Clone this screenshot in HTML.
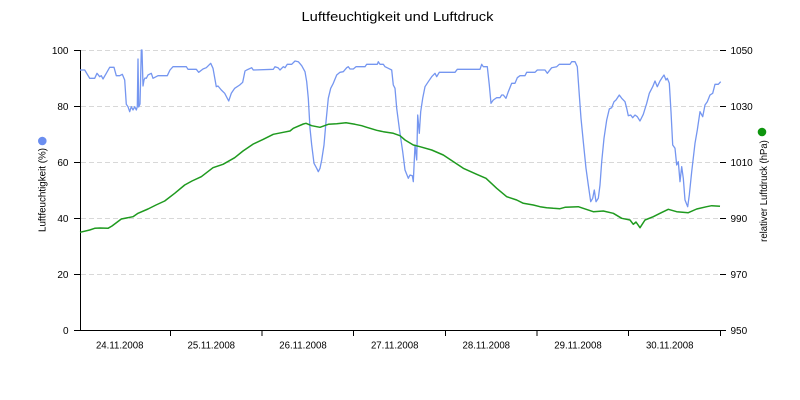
<!DOCTYPE html>
<html><head><meta charset="utf-8"><style>
html,body{margin:0;padding:0;background:#fff;}
svg{display:block;}
text{font-family:"Liberation Sans","DejaVu Sans",sans-serif;fill:#000;}
</style></head><body>
<svg width="800" height="400" viewBox="0 0 800 400" xmlns="http://www.w3.org/2000/svg">
<rect width="800" height="400" fill="#fff"/>
<text x="397.5" y="21" font-size="13" text-anchor="middle" textLength="192" lengthAdjust="spacingAndGlyphs">Luftfeuchtigkeit und Luftdruck</text>
<g stroke="#d8d8d8" stroke-width="1" stroke-dasharray="5,3">
<line x1="81" y1="50.5" x2="720" y2="50.5"/>
<line x1="81" y1="106.5" x2="720" y2="106.5"/>
<line x1="81" y1="162.5" x2="720" y2="162.5"/>
<line x1="81" y1="218.5" x2="720" y2="218.5"/>
<line x1="81" y1="274.5" x2="720" y2="274.5"/>
</g>
<g stroke="#000" stroke-width="1">
<line x1="80.5" y1="50" x2="80.5" y2="330.5"/>
<line x1="80" y1="330.5" x2="721" y2="330.5"/>
<line x1="74" y1="50.5" x2="80" y2="50.5"/>
<line x1="74" y1="106.5" x2="80" y2="106.5"/>
<line x1="74" y1="162.5" x2="80" y2="162.5"/>
<line x1="74" y1="218.5" x2="80" y2="218.5"/>
<line x1="74" y1="274.5" x2="80" y2="274.5"/>
<line x1="74" y1="330.5" x2="80" y2="330.5"/>
<line x1="720" y1="50.5" x2="726" y2="50.5"/>
<line x1="720" y1="106.5" x2="726" y2="106.5"/>
<line x1="720" y1="162.5" x2="726" y2="162.5"/>
<line x1="720" y1="218.5" x2="726" y2="218.5"/>
<line x1="720" y1="274.5" x2="726" y2="274.5"/>
<line x1="720" y1="330.5" x2="726" y2="330.5"/>
<line x1="170.5" y1="330" x2="170.5" y2="336"/>
<line x1="262" y1="330" x2="262" y2="336"/>
<line x1="353.5" y1="330" x2="353.5" y2="336"/>
<line x1="445.5" y1="330" x2="445.5" y2="336"/>
<line x1="537" y1="330" x2="537" y2="336"/>
<line x1="628.5" y1="330" x2="628.5" y2="336"/>
<line x1="720.5" y1="330" x2="720.5" y2="336"/>
</g>
<g font-size="10" text-anchor="end">
<text x="68.5" y="54">100</text>
<text x="68.5" y="110">80</text>
<text x="68.5" y="166">60</text>
<text x="68.5" y="222">40</text>
<text x="68.5" y="278">20</text>
<text x="68.5" y="334">0</text>
</g>
<g font-size="10">
<text x="730.5" y="54">1050</text>
<text x="730.5" y="110">1030</text>
<text x="730.5" y="166">1010</text>
<text x="730.5" y="222">990</text>
<text x="730.5" y="278">970</text>
<text x="730.5" y="334">950</text>
</g>
<g font-size="10" text-anchor="middle">
<text x="119.7" y="348.5" textLength="47.5" lengthAdjust="spacingAndGlyphs">24.11.2008</text>
<text x="211.3" y="348.5" textLength="47.5" lengthAdjust="spacingAndGlyphs">25.11.2008</text>
<text x="303" y="348.5" textLength="47.5" lengthAdjust="spacingAndGlyphs">26.11.2008</text>
<text x="394.7" y="348.5" textLength="47.5" lengthAdjust="spacingAndGlyphs">27.11.2008</text>
<text x="486.3" y="348.5" textLength="47.5" lengthAdjust="spacingAndGlyphs">28.11.2008</text>
<text x="578" y="348.5" textLength="47.5" lengthAdjust="spacingAndGlyphs">29.11.2008</text>
<text x="669.7" y="348.5" textLength="47.5" lengthAdjust="spacingAndGlyphs">30.11.2008</text>
</g>
<circle cx="42.3" cy="141" r="4.3" fill="#6b8ef0"/>
<text transform="translate(45.5,190) rotate(-90)" font-size="10" text-anchor="middle" textLength="84" lengthAdjust="spacingAndGlyphs">Luftfeuchtigkeit (%)</text>
<circle cx="762" cy="132" r="4.3" fill="#0e950e"/>
<text transform="translate(767,191) rotate(-90)" font-size="10" text-anchor="middle" textLength="101.7" lengthAdjust="spacingAndGlyphs">relativer Luftdruck (hPa)</text>
<polyline fill="none" stroke="#7596f0" stroke-width="1.3" stroke-linejoin="round" points="80,70 84.7,70 89.7,78.3 94.7,78.3 97,73.3 99.7,76.7 101.3,75.7 103,79 106.3,73.3 109.7,67.3 114,67.3 116.3,75.7 119.7,75.7 122.3,74.3 124.7,80 126.3,104.3 128,106.7 129.7,111.7 131.3,106.7 133,110 134.7,106.7 136.3,110 137.3,106.7 138,59 138.7,107 140,104 141.3,50 142,50 143,86 144,80 145,78 146.3,78.3 148,75 151.3,73.3 153,78.3 158,75.7 167.3,75.7 170,70 173,66.7 186.3,66.7 188,69.3 196.3,69.3 198.7,72.3 203,69 206.3,67.7 210.7,63.3 213,68.3 216.3,86.7 218,86 221.3,90 224.7,93.3 228.7,101 231.3,93.3 234.7,88.3 239.7,85 242.7,82.3 245,71 246.7,70 251.7,67.7 253.3,70 273.3,69.3 275,66.7 278,67.7 280,70 283.3,66.7 285,67.7 287.3,64.3 291.7,64.3 295,61 298.3,61.7 301.7,65.7 305,71.7 306.7,81.7 308.3,98.3 310,128.3 311.7,145 314,163.3 316.7,168.3 318.3,171.7 320,168.3 321.7,160 324,145 326,121.7 328.3,98.3 330.7,88.3 333.3,83.3 336.7,75 340,72.3 343.3,71.7 346.7,67.7 348.3,66.7 350,69 353.3,69 356,66.7 365,66.7 366.7,64.3 377.3,64.3 378.3,61.7 380,64.3 383.3,64.3 385,66.7 388.3,68.3 391.7,70 393.3,85 395,88.3 396.7,108.3 399.3,128.3 402.7,151.7 405,170 408.3,178.3 410,175 412.3,175.7 413.3,181.7 415,145 416.7,160 417.7,115 419.3,133.3 420.7,111.7 422.7,98.3 425,86.7 428.3,81.7 431.7,76.7 435,73.3 436.7,76.7 439.3,72.3 455,72.3 457.3,69.3 480,69.3 481.7,64.3 483.3,66.7 487.3,66.7 489.3,85 491,103.3 493.3,100 496.7,97.7 500,97.7 501.7,95 503.3,95 506,98.3 508.3,91.7 511.7,83.3 515,83.3 517.3,77.7 520,75.7 525,75.7 526.7,72.3 535,72.3 537.3,70 545,70 547.3,73.3 551.7,67.7 556.7,66.7 559.3,64.3 570,64.3 571.7,61.7 575,61.7 577.3,66.7 579.3,95 581,118.3 583.3,141.7 586,168.3 588.3,185 590.7,201.7 592.7,198.3 594.3,190 596,201.7 598.3,198.3 600,185 601.7,161.7 604,138.3 606.7,120 609.3,109 611.7,107.7 614,101.7 616,100 619.3,95 621.7,98.3 625,101.7 626.7,108.3 628.3,115.7 630.7,115 632.7,117.7 635,115 637.3,116.7 640,121 643.3,114.3 646.7,103.3 649.3,93.3 652.7,86.7 655,81 657.3,86.7 660,81 661.7,78.3 664,75 666,80 667.3,78.3 669.3,83.3 671,111.7 672.7,145 675,148.3 676.7,165 678.3,161.7 680,181.7 681.7,166.7 683.3,178.3 685,200 687.7,206.7 689.3,195 691.7,171.7 695,143.3 697.3,130 700,111.7 702.7,116.7 705,105 707.3,101.7 710,95 712.7,93.3 715,84.3 718.3,84.3 720.7,81.7"/>
<polyline fill="none" stroke="#1f9a1f" stroke-width="1.5" stroke-linejoin="round" points="80,232.3 89.7,230 94.7,228.3 100,228 108,228.3 112,226 121.3,219 133,216.7 138,213.3 148,209 156,205 164.7,201 174.7,193.3 184.7,185 192,181 201.3,176.7 213,167.7 223,164.3 234.7,157.7 243,151 253.3,144 263.3,139.3 273.3,134.3 283.3,132.3 290,131 293.3,128.3 303.3,124 306,123.3 311.7,125.7 320,127.3 328.3,124.3 336.7,123.7 346,122.7 355,124.3 361.7,125.7 366.7,127.3 376.7,130.3 383.3,131.7 393.3,133.3 400,135.7 405,140 413.3,145 420,146.7 431.7,150 443.3,155 455,162.7 463.3,168.3 476.7,174.3 486,178.3 496.7,188.3 506.7,196.7 516.7,200 523.3,203.3 533.3,205 540,206.7 546.7,207.7 553.3,208.3 560,208.7 565,207.3 578.3,206.7 593.3,211.7 603.3,211 613.3,213.3 621.7,218.3 630,220 633.3,224.3 636,222 640,227.7 645,220 653.3,216.7 660,213.3 668.3,209.3 676.7,211.7 688.3,212.7 696.7,209 706.7,206.7 711.7,205.7 720,206.3"/>
</svg>
</body></html>
